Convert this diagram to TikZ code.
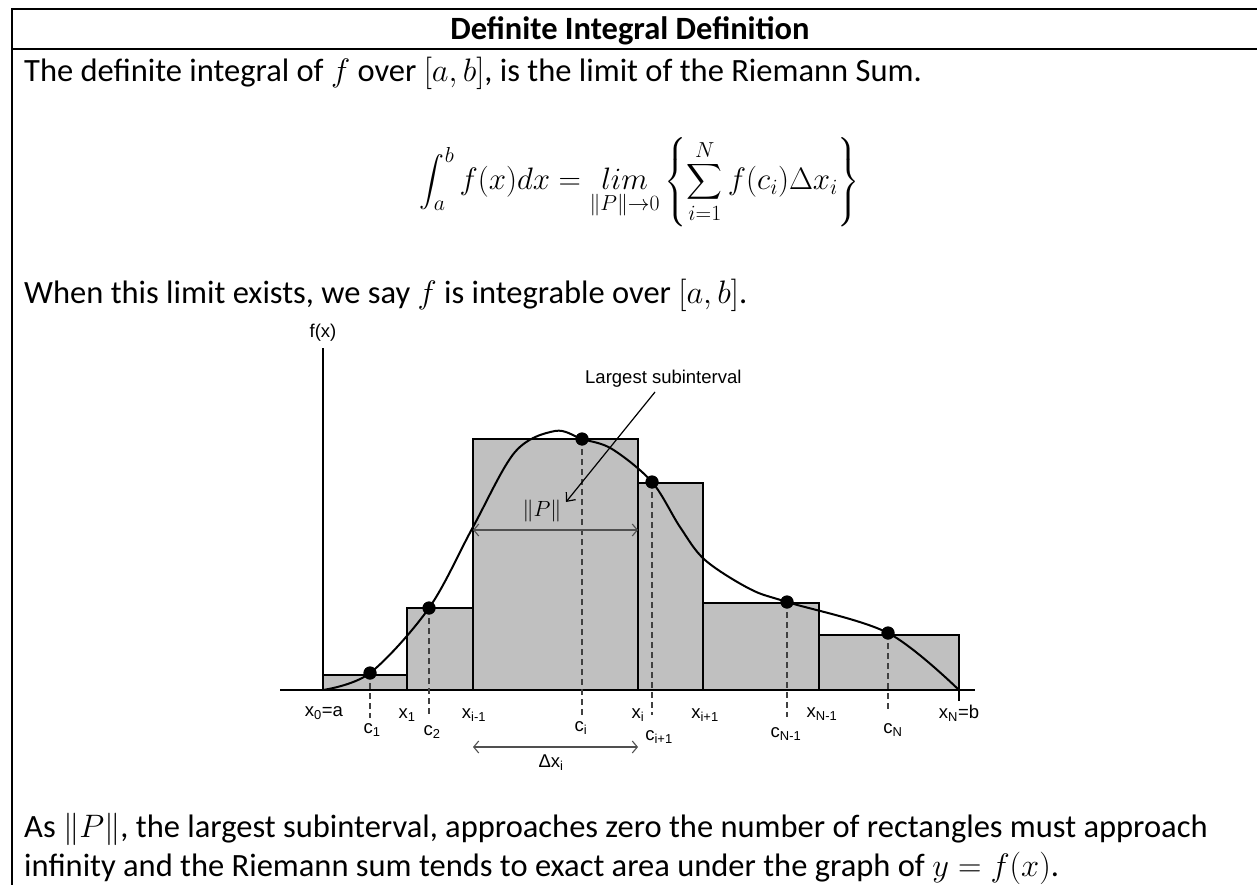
\RequirePackage{fix-cm}
\documentclass[tikz,border=0pt]{standalone}
\usepackage{amsmath}
\usepackage{fontspec}
\setmainfont{Carlito}
\newfontfamily\arialf{Liberation Sans}
\usetikzlibrary{arrows.meta}
\definecolor{barfill}{HTML}{C0C0C0}
\definecolor{dashgray}{HTML}{404040}
\definecolor{arrowgray}{HTML}{505050}
\tikzset{
  bigbody/.style={font=\fontsize{32.5}{39}\selectfont, inner sep=0pt, anchor=base west},
  lbl/.style={font=\arialf\fontsize{18.5}{22}\selectfont, inner sep=0pt},
  rectbar/.style={fill=barfill, draw=black, line width=1.3pt},
  axisline/.style={line width=2pt},
  dropline/.style={dash pattern=on 6pt off 4pt, line width=1.1pt, draw=dashgray},
  curveline/.style={line width=2pt},
  dot/.style={circle, fill=black, inner sep=0pt, minimum size=13pt},
  dimarrow/.style={draw=arrowgray, line width=1.1pt, {Straight Barb[length=5pt,width=12pt]}-{Straight Barb[length=5pt,width=12pt]}},
  pointer/.style={draw=black, line width=1.2pt, -{Straight Barb[length=7pt,width=12pt]}},
  frameline/.style={line width=2pt}
}
\begin{document}
\begin{tikzpicture}[x=1pt,y=-1pt]
\useasboundingbox (0,0) rectangle (1257,885);
% table frame
\coordinate (tl) at (12,9);
\coordinate (tr) at (1257,9);
\coordinate (ml) at (12,49);
\coordinate (mr) at (1257,49);
\coordinate (bl) at (12,885);
\draw[frameline] (tr) -- (tl) -- (bl);
\draw[frameline] (ml) -- (mr);
% texts
\node[font=\fontsize{32.5}{39}\selectfont\bfseries, inner sep=0pt, anchor=base] (title) at (630,40) {Definite Integral Definition};
\node[bigbody] (line1) at (24,82) {The definite integral of $f$ over $[a,b]$, is the limit of the Riemann Sum.};
\node[font=\fontsize{31}{37}\selectfont, inner sep=0pt] (formula) at (640,182)
  {$\displaystyle \int_a^b f(x)dx = \mathop{lim}\limits_{\|P\|\to 0}\left\{\sum_{i=1}^{N} f(c_i)\Delta x_i\right\}$};
\node[bigbody] (line2) at (24,303) {When this limit exists, we say $f$ is integrable over $[a,b]$.};
\node[bigbody] (line3) at (24,837) {As $\|P\|$, the largest subinterval, approaches zero the number of rectangles must approach};
\node[bigbody] (line4) at (24,876) {infinity and the Riemann sum tends to exact area under the graph of $y=f(x)$.};
% rectangles
\draw[rectbar] (323,675) rectangle (407,690);
\draw[rectbar] (407,608) rectangle (473,690);
\draw[rectbar] (473,439) rectangle (638,690);
\draw[rectbar] (638,483) rectangle (703,690);
\draw[rectbar] (703,603) rectangle (819,690);
\draw[rectbar] (819,635) rectangle (959,690);
% axes
\node[lbl] (fx) at (323,333) {f(x)};
\coordinate (ytop) at (323,348);
\coordinate (O) at (323,690);
\coordinate (xl) at (280,690);
\coordinate (xr) at (975,690);
\draw[axisline] (ytop) -- (O);
\draw[axisline] (xl) -- (xr);
\coordinate (bpt) at (959,690);
\coordinate (btick) at (959,701);
\draw[line width=1.5pt] (bpt) -- (btick);
% sample points
\node[dot] (c1) at (370,673) {};
\node[dot] (c2) at (429,608) {};
\node[dot] (ci) at (582,439) {};
\node[dot] (ci1) at (652,482) {};
\node[dot] (cN1) at (787,602) {};
\node[dot] (cN) at (888,633) {};
\coordinate (c1b) at (370,718);
\coordinate (c2b) at (429,715);
\coordinate (cib) at (582,715);
\coordinate (ci1b) at (652,715);
\coordinate (cN1b) at (787,717);
\coordinate (cNb) at (888,712);
\draw[dropline] (c1.center) -- (c1b);
\draw[dropline] (c2.center) -- (c2b);
\draw[dropline] (ci.center) -- (cib);
\draw[dropline] (ci1.center) -- (ci1b);
\draw[dropline] (cN1.center) -- (cN1b);
\draw[dropline] (cN.center) -- (cNb);
% curve
\draw[curveline] plot[smooth, tension=0.55] coordinates {(323,690) (370,673) (429,608) (473,527) (515,452) (555,431) (582,439) (612,449) (652,482) (680,527) (705,560) (750,589) (787,602) (888,633) (959,690)};
\foreach \n in {c1,c2,ci,ci1,cN1,cN} \fill (\n) circle (6.5);
% labels under axis
\node[lbl] (x0) at (324,713) {x\textsubscript{0}=a};
\node[lbl] (lc1) at (372,730) {c\textsubscript{1}};
\node[lbl] (x1) at (407,715) {x\textsubscript{1}};
\node[lbl] (lc2) at (432,732) {c\textsubscript{2}};
\node[lbl] (xim1) at (474,715) {x\textsubscript{i-1}};
\node[lbl] (lci) at (581,728) {c\textsubscript{i}};
\node[lbl] (xi) at (638,715) {x\textsubscript{i}};
\node[lbl] (lci1) at (659,737) {c\textsubscript{i+1}};
\node[lbl] (xip1) at (705,715) {x\textsubscript{i+1}};
\node[lbl] (lcN1) at (786,734) {c\textsubscript{N-1}};
\node[lbl] (xN1) at (822,714) {x\textsubscript{N-1}};
\node[lbl] (lcN) at (893,730) {c\textsubscript{N}};
\node[lbl] (xN) at (959,713) {x\textsubscript{N}=b};
% dimension arrows
\coordinate (dxl) at (473,747);
\coordinate (dxr) at (638,747);
\draw[dimarrow] (dxl) -- (dxr);
\node[lbl] (dx) at (551,763) {Δx\textsubscript{i}};
\coordinate (pl) at (473,530);
\coordinate (pr) at (638,530);
\draw[dimarrow] (pl) -- (pr);
\node[font=\fontsize{22}{26}\selectfont, inner sep=0pt] (Pn) at (542,511) {$\|P\|$};
% largest subinterval pointer
\node[lbl, anchor=west] (largest) at (585,379) {Largest subinterval};
\coordinate (ps) at (655,392);
\coordinate (pe) at (566,502);
\draw[pointer] (ps) -- (pe);
\end{tikzpicture}
\end{document}
